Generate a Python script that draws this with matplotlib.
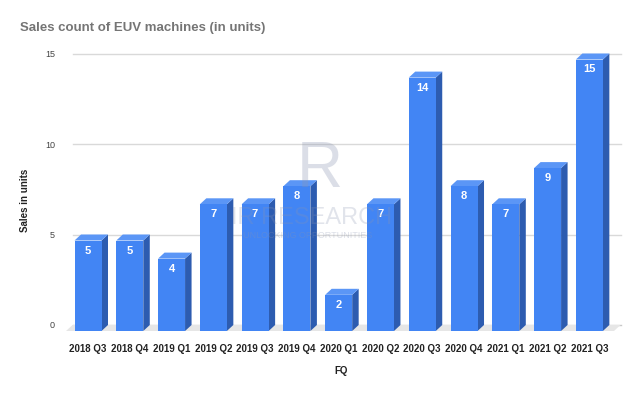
import matplotlib.pyplot as plt
from matplotlib.patches import Polygon

plt.rcParams['font.family'] = ['Liberation Sans', 'DejaVu Sans']

## data
quarters = ['2018 Q3', '2018 Q4', '2019 Q1', '2019 Q2', '2019 Q3', '2019 Q4', '2020 Q1',
            '2020 Q2', '2020 Q3', '2020 Q4', '2021 Q1', '2021 Q2', '2021 Q3']
units = [5, 5, 4, 7, 7, 8, 2, 7, 14, 8, 7, 9, 15]
yticks = [0, 5, 10, 15]

W, H = 640, 396
fig = plt.figure(figsize=(W / 100, H / 100), dpi=100)

# axes box in pixels (front plane)
px_left, px_right = 66, 614
px_bottom, px_top = 331, 48.6
pitch = 41.78
x0 = 88.0
xmin = (px_left - x0) / pitch
xmax = (px_right - x0) / pitch
ppu = 18.1
ymax = (px_bottom - px_top) / ppu
ax = fig.add_axes([px_left / W, (H - px_bottom) / H, (px_right - px_left) / W, (px_bottom - px_top) / H])
ax.set_xlim(xmin, xmax)
ax.set_ylim(0, ymax)

# depth offsets (6 px right, 6 px up)
dx = 6.5 / pitch
dy = 6 / ppu

for s in ax.spines.values():
    s.set_visible(False)

# floor
floor = Polygon([(xmin, 0), (xmax, 0), (xmax + dx, dy), (xmin + dx, dy)],
                closed=True, facecolor='#e6e6e6', edgecolor='none', zorder=1, clip_on=False)
ax.add_patch(floor)

# gridlines on the back plane
for v in yticks:
    ax.plot([xmin + dx, xmax + dx], [v + dy, v + dy], color='#d9d9d9' if v else '#c8c8c8',
            lw=1, zorder=0.5, clip_on=False)

ax.set_yticks([v + dy for v in yticks])
ax.set_yticklabels([str(v) for v in yticks], fontsize=6.5, color='#444444')
ax.tick_params(axis='y', length=0, pad=8)

xs = list(range(len(quarters)))
bw = 27 / pitch
ax.bar(xs, units, width=bw, color='#4285f4', zorder=3)
for x, v in zip(xs, units):
    r = x + bw / 2
    l = x - bw / 2
    side = Polygon([(r, 0), (r + dx, dy), (r + dx, v + dy), (r, v)], closed=True,
                   facecolor='#2d5cb0', edgecolor='none', zorder=2)
    top = Polygon([(l, v), (r, v), (r + dx, v + dy), (l + dx, v + dy)], closed=True,
                  facecolor='#5b96f6', edgecolor='none', zorder=2)
    ax.add_patch(side)
    ax.add_patch(top)
    ax.text(x, v - 10 / ppu, str(v), ha='center', va='center', color='white',
            fontsize=8, fontweight='bold', zorder=4)

ax.set_xticks(xs)
ax.set_xticklabels(quarters, fontsize=7, fontweight='bold', color='#222222')
ax.tick_params(axis='x', length=0, pad=9)

# watermark
fig.text(320 / W, 1 - 170 / H, 'R', fontsize=46, color='#8a94b0', alpha=0.3,
         ha='center', va='center', zorder=10)
fig.text(312 / W, 1 - 218 / H, 'IR RESEARCH', fontsize=17, color='#8a94b0', alpha=0.25,
         ha='center', va='center', zorder=10)
fig.text(308 / W, 1 - 235 / H, 'UNLOCKING OPPORTUNITIES', fontsize=6.5, color='#8a94b0',
         alpha=0.3, ha='center', va='center', zorder=10)

fig.text(20 / W, 1 - 28 / H, 'Sales count of EUV machines (in units)', fontsize=9.5,
         fontweight='bold', color='#757575', ha='left', va='center')
fig.text(25.5 / W, 1 - 200 / H, 'Sales in units', fontsize=7, fontweight='bold',
         rotation=90, ha='center', va='center', color='#222222')
fig.text(341 / W, 1 - 371 / H, 'FQ', fontsize=7, fontweight='bold', ha='center',
         va='center', color='#222222')

fig.savefig('out.png', dpi=100)
